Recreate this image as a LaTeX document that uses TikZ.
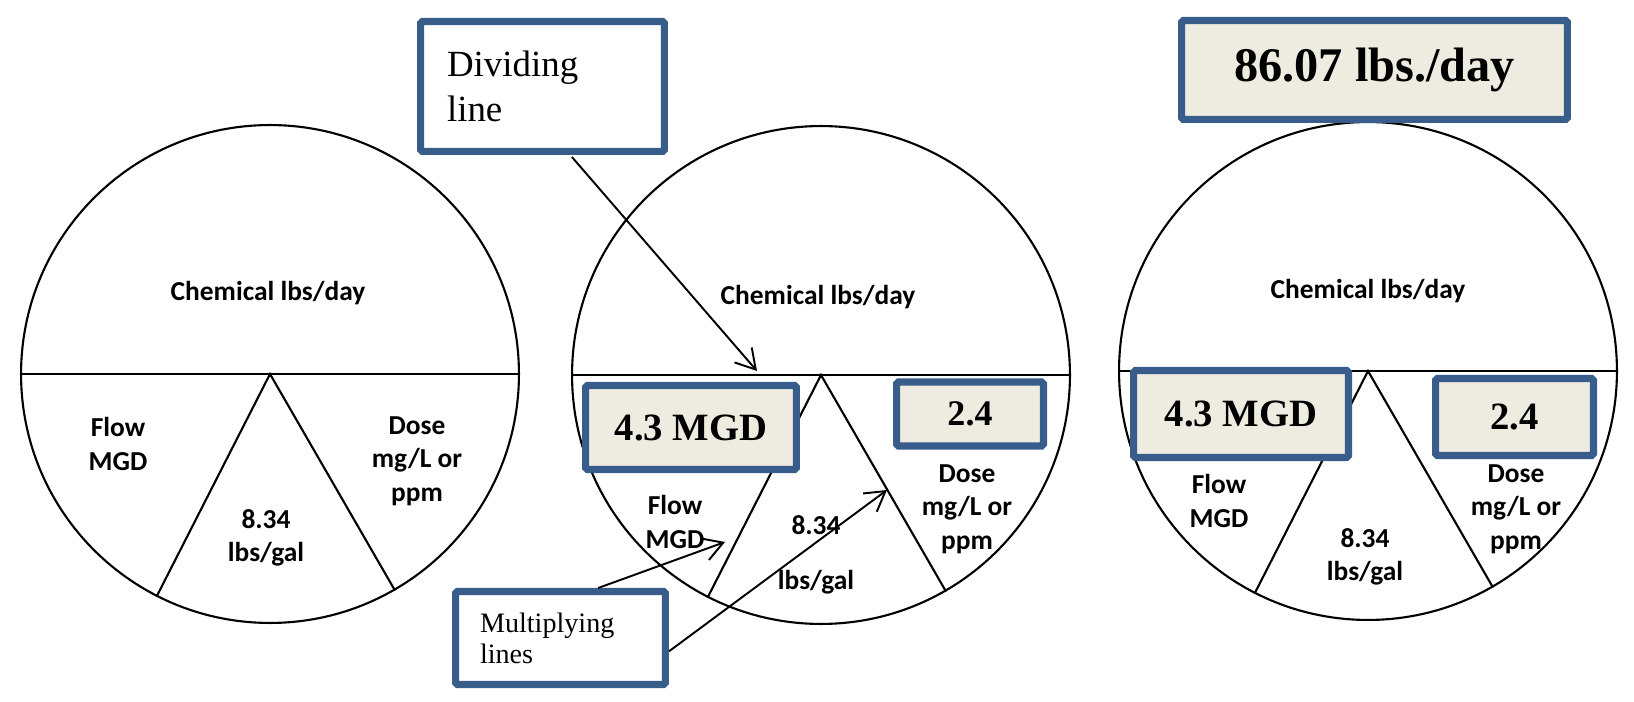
\documentclass[tikz,border=0pt]{standalone}
\usepackage{fontspec}
\setmainfont{Liberation Serif}
\newfontfamily\calibfont{Carlito}
\usetikzlibrary{arrows.meta}
\definecolor{boxblue}{RGB}{56,93,138}
\definecolor{boxfill}{RGB}{238,236,225}

\begin{document}
\begin{tikzpicture}[x=0.02cm,y=-0.02cm]
	\tikzstyle{every node}+=[inner sep=0pt]
	\tikzstyle{pie}=[draw=black, circle, line width=1.2pt, minimum size=9.96cm]
	\tikzstyle{lbl}=[align=center, font={\calibfont\bfseries\fontsize{15.6pt}{19pt}\selectfont}]
	\tikzstyle{numbox}=[draw=boxblue, fill=boxfill, line width=4pt, rounded corners=1pt, font={\bfseries\fontsize{22pt}{25pt}\selectfont}]
	\tikzstyle{notebox}=[draw=boxblue, fill=white, line width=4pt, rounded corners=1pt, align=left]
	\tikzstyle{pointer}=[black, line width=1.1pt, -{Straight Barb[length=11pt,width=13pt]}]
	\useasboundingbox (0,0) rectangle (1634,702);
	% three circles
	\node [pie] (c1) at (270,374) {};
	\node [pie] (c2) at (821,375) {};
	\node [pie] (c3) at (1368,371) {};
	\draw [black, line width=1.2pt] (c1.west) -- (c1.east);
	\draw [black, line width=1.2pt] (c2.west) -- (c2.east);
	\draw [black, line width=1.2pt] (c3.west) -- (c3.east);
	\draw [black, line width=1.2pt] (c1.-117) -- (c1.center) -- (c1.-60);
	\draw [black, line width=1.2pt] (c2.-117) -- (c2.center) -- (c2.-60);
	\draw [black, line width=1.2pt] (c3.-117) -- (c3.center) -- (c3.-60);
	% labels
	\node [lbl] (chem1) at (268,293) {Chemical lbs/day};
	\node [lbl] (flow1) at (118,444) {Flow\\MGD};
	\node [lbl] (gal1) at (266,538) {8.34\\lbs/gal};
	\node [lbl] (dose1) at (417,461) {Dose\\mg/L or\\ppm};
	\node [lbl] (chem2) at (818,297) {Chemical lbs/day};
	\node [lbl] (flow2) at (675,522) {Flow\\MGD};
	\node [lbl] (gal2) at (816,555) {8.34\\[0.43cm]lbs/gal};
	\node [lbl] (dose2) at (967,509) {Dose\\mg/L or\\ppm};
	\node [lbl] (chem3) at (1368,291) {Chemical lbs/day};
	\node [lbl] (flow3) at (1219,501) {Flow\\MGD};
	\node [lbl] (gal3) at (1365,557) {8.34\\lbs/gal};
	\node [lbl] (dose3) at (1516,509) {Dose\\mg/L or\\ppm};
	% value boxes
	\node [numbox, minimum width=4.22cm, minimum height=1.68cm] (flowval2) at (691,427.5) {4.3 MGD};
	\node [numbox, minimum width=2.94cm, minimum height=1.28cm, font={\bfseries\fontsize{20.5pt}{24pt}\selectfont}] (doseval2) at (970,414) {2.4};
	\node [numbox, minimum width=4.3cm, minimum height=1.74cm] (flowval3) at (1241,414) {4.3 MGD};
	\node [numbox, minimum width=3.16cm, minimum height=1.54cm] (doseval3) at (1514.5,417) {2.4};
	\node [numbox, minimum width=7.72cm, minimum height=1.98cm, font={\bfseries\fontsize{27.5pt}{30pt}\selectfont}] (total) at (1374.5,70) {86.07 lbs./day};
	% notes
	\node [notebox, text width=3.82cm, inner xsep=0.53cm, minimum height=2.6cm, font={\fontsize{21pt}{25.5pt}\selectfont}] (divbox) at (542.5,86.5) {Dividing\\line\\[0.1cm]};
	\node [notebox, text width=3.22cm, inner xsep=0.49cm, minimum height=1.86cm, font={\fontsize{16pt}{17.6pt}\selectfont}] (mulbox) at (560.5,638) {Multiplying\\lines};
	\coordinate (divtip) at (757,371);
	\coordinate (flowtip) at (725,542);
	\coordinate (dosetip) at (887,490);
	\draw [pointer, shorten <=1.5pt] (divbox.-68) -- (divtip);
	\draw [pointer] (mulbox.53) -- (flowtip);
	\draw [pointer] (mulbox.-7) -- (dosetip);
\end{tikzpicture}
\end{document}
